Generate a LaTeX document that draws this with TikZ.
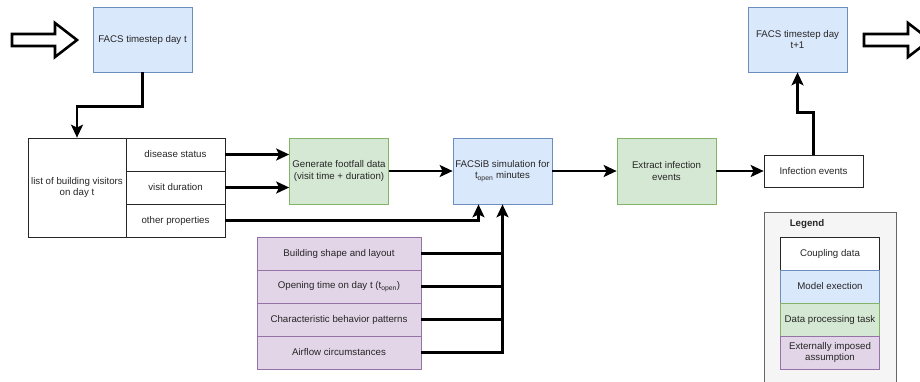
\documentclass[tikz,border=0pt]{standalone}
\usepackage{fontspec}
\setmainfont{Liberation Sans}
\usetikzlibrary{arrows.meta}

\definecolor{modelfill}{HTML}{DAE8FC}
\definecolor{modelline}{HTML}{6C8EBF}
\definecolor{taskfill}{HTML}{D5E8D4}
\definecolor{taskline}{HTML}{82B366}
\definecolor{assumefill}{HTML}{E1D5E7}
\definecolor{assumeline}{HTML}{9673A6}
\definecolor{legendfill}{HTML}{F5F5F5}
\definecolor{legendline}{HTML}{666666}

\begin{document}
\begin{tikzpicture}
			[x=1pt,y=-1pt,>={Stealth[length=13pt,width=12pt,inset=3pt]},
			box/.style={draw,line width=0.7pt,minimum width=99pt,minimum height=66pt,inner sep=1pt,align=center,text=black!85,font=\fontsize{9.7}{11.5}\selectfont},
			model/.style={box,fill=modelfill,draw=modelline},
			task/.style={box,fill=taskfill,draw=taskline},
			coupling/.style={box,fill=white,draw=black!85,minimum height=33pt},
			assume/.style={box,fill=assumefill,draw=assumeline,minimum height=33pt},
			flow/.style={->,line width=2.8pt},
			feed/.style={line width=2.8pt},
			hollow/.style={draw=black,fill=white,line width=2.6pt,line join=miter},]
			\clip (0,0) rectangle (920,382);
			% day t
			\node (facsA) at (142.5,39.5)[model,minimum height=65pt] {FACS timestep day t};
			\draw[hollow] (12,34) -- (55,34) -- (55,23) -- (77,40) -- (55,57) -- (55,46) -- (12,46) -- cycle;
			% visitors
			\node (visitors) at (77,187.5)[coupling,minimum width=98pt,minimum height=99pt] {list of building visitors\\on day t};
			\node (status) at (175.5,154.5)[coupling] {disease status};
			\node (duration) at (175.5,187.5)[coupling] {visit duration};
			\node (other) at (175.5,220.5)[coupling] {other properties};
			% processing
			\node (footfall) at (339,171)[task] {Generate footfall data\\(visit time + duration)};
			\node (sim) at (502.5,171)[model] {FACSiB simulation for\\t\textsubscript{open} minutes};
			\node (extract) at (666.5,171)[task] {Extract infection\\events};
			\node (infect) at (813.5,171)[coupling,minimum height=32pt] {Infection events};
			\node (facsB) at (797.5,39.5)[model,minimum height=65pt] {FACS timestep day\\t+1};
			\draw[hollow] (864,34) -- (908,34) -- (908,23) -- (930,40) -- (908,57) -- (908,46) -- (864,46) -- cycle;
			% assumptions
			\node (shape) at (339,253.5)[assume,minimum width=164pt] {Building shape and layout};
			\node (open) at (339,286.5)[assume,minimum width=164pt] {Opening time on day t (t\textsubscript{open})};
			\node (behav) at (339,319.5)[assume,minimum width=164pt] {Characteristic behavior patterns};
			\node (air) at (339,352.5)[assume,minimum width=164pt] {Airflow circumstances};
			% legend
			\node (legend) at (830,306)[box,fill=legendfill,draw=legendline,minimum width=132pt,minimum height=188pt] {};
			\node (legendtitle) at (807,224)[font=\fontsize{9.7}{11.5}\selectfont\bfseries,text=black!85] {Legend};
			\node (lcoupling) at (830,253.5)[coupling] {Coupling data};
			\node (lmodel) at (830,286.5)[model,minimum height=33pt] {Model exection};
			\node (ltask) at (830,319.5)[task,minimum height=33pt] {Data processing task};
			\node (lassume) at (830,352.5)[assume] {Externally imposed\\assumption};
			% connectors
			\draw[flow] (facsA.south) -- ++(0,34) -| (visitors.north);
			\draw[flow] (status.east) -- (status.east -| footfall.west);
			\draw[flow] (duration.east) -- (duration.east -| footfall.west);
			\draw[flow] (other.east) -| ([xshift=-24pt]sim.south);
			\draw[flow] (footfall) -- (sim);
			\draw[flow] (air.east) -| (sim.south);
			\foreach \n in {shape,open,behav}
				\draw[feed] (\n.east) -- (\n.east -| sim.south);
			\draw[flow] (sim) -- (extract);
			\draw[flow] (extract) -- (infect);
			\draw[flow] (infect.north) -- ++(0,-42) -| (facsB.south);
	\end{tikzpicture}
\end{document}
